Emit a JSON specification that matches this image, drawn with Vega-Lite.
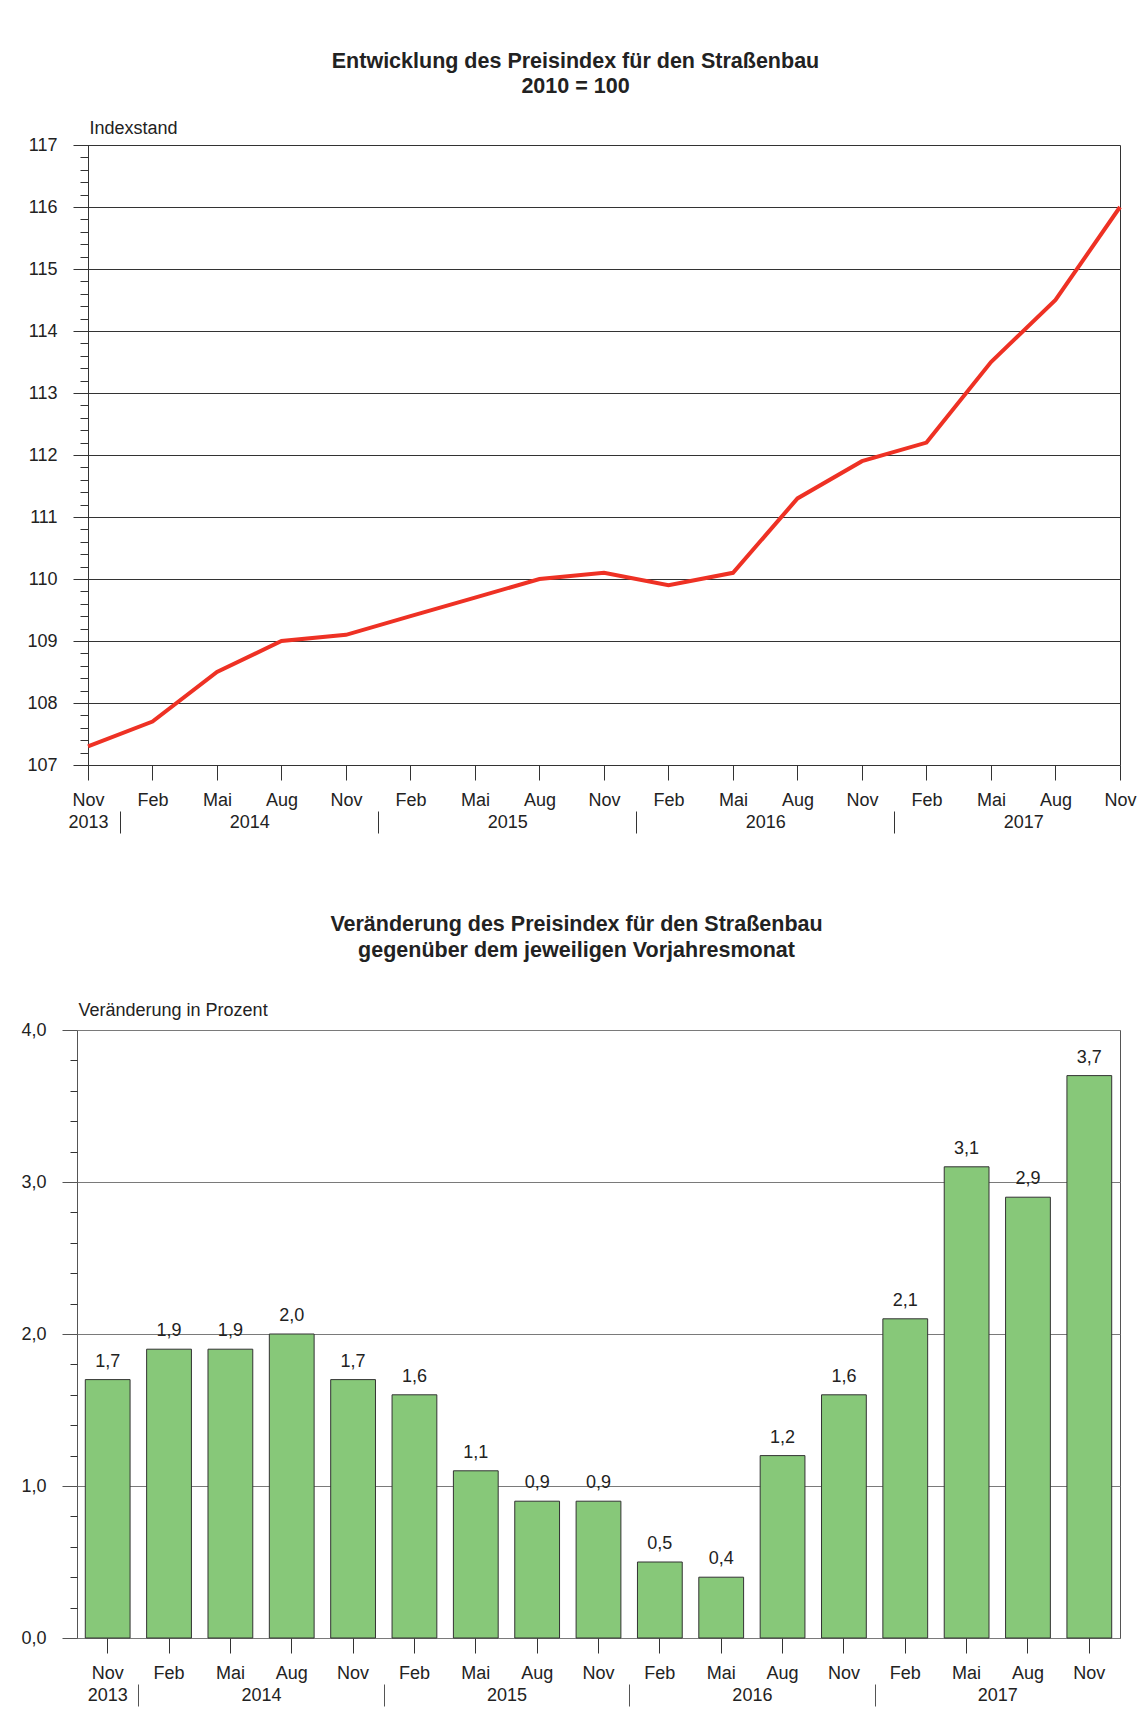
{
  "$schema": "https://vega.github.io/schema/vega-lite/v6.json",
  "background": "white",
  "padding": {"left": 16, "top": 50, "right": 0, "bottom": 0},
  "columns": 1,
  "spacing": 79,
  "datasets": {
    "index": [
      {"Monat": "Nov 2013", "Index": 107.3},
      {"Monat": "Feb 2014", "Index": 107.7},
      {"Monat": "Mai 2014", "Index": 108.5},
      {"Monat": "Aug 2014", "Index": 109.0},
      {"Monat": "Nov 2014", "Index": 109.1},
      {"Monat": "Feb 2015", "Index": 109.4},
      {"Monat": "Mai 2015", "Index": 109.7},
      {"Monat": "Aug 2015", "Index": 110.0},
      {"Monat": "Nov 2015", "Index": 110.1},
      {"Monat": "Feb 2016", "Index": 109.9},
      {"Monat": "Mai 2016", "Index": 110.1},
      {"Monat": "Aug 2016", "Index": 111.3},
      {"Monat": "Nov 2016", "Index": 111.9},
      {"Monat": "Feb 2017", "Index": 112.2},
      {"Monat": "Mai 2017", "Index": 113.5},
      {"Monat": "Aug 2017", "Index": 114.5},
      {"Monat": "Nov 2017", "Index": 116.0}
    ],
    "veraenderung": [
      {"Monat": "Nov 2013", "Prozent": 1.7},
      {"Monat": "Feb 2014", "Prozent": 1.9},
      {"Monat": "Mai 2014", "Prozent": 1.9},
      {"Monat": "Aug 2014", "Prozent": 2.0},
      {"Monat": "Nov 2014", "Prozent": 1.7},
      {"Monat": "Feb 2015", "Prozent": 1.6},
      {"Monat": "Mai 2015", "Prozent": 1.1},
      {"Monat": "Aug 2015", "Prozent": 0.9},
      {"Monat": "Nov 2015", "Prozent": 0.9},
      {"Monat": "Feb 2016", "Prozent": 0.5},
      {"Monat": "Mai 2016", "Prozent": 0.4},
      {"Monat": "Aug 2016", "Prozent": 1.2},
      {"Monat": "Nov 2016", "Prozent": 1.6},
      {"Monat": "Feb 2017", "Prozent": 2.1},
      {"Monat": "Mai 2017", "Prozent": 3.1},
      {"Monat": "Aug 2017", "Prozent": 2.9},
      {"Monat": "Nov 2017", "Prozent": 3.7}
    ]
  },
  "concat": [
    {
      "width": 1043,
      "height": 620,
      "view": {"stroke": null},
      "title": {
        "text": ["Entwicklung des Preisindex für den Straßenbau", "2010 = 100"],
        "fontSize": 21.5, "fontWeight": "bold", "lineHeight": 25,
        "anchor": "middle", "frame": "group", "dx": -23, "offset": 22, "color": "#222"
      },
      "data": {"name": "index"},
      "resolve": {"axis": {"x": "independent", "y": "independent"}},
      "layer": [
        {
          "mark": {"type": "line", "color": "#EE3124", "strokeWidth": 4},
          "encoding": {
            "x": {"field": "Monat", "type": "ordinal", "sort": null, "scale": {"type": "point", "padding": 0.08527, "align": 1},
              "axis": {"orient": "bottom", "title": null, "labelAngle": 0, "labelOverlap": false,
                "labelExpr": "datum.value == 'Nov 2013' ? ['Nov', '2013'] : split(datum.value, ' ')[0]",
                "labelLineHeight": 22, "labelPadding": 11, "tickSize": 15, "tickColor": "#333", "domain": false, "grid": false}},
            "y": {"field": "Index", "type": "quantitative", "scale": {"domain": [107, 117], "zero": false, "nice": false},
              "axis": {"orient": "left", "offset": -11, "values": [107, 108, 109, 110, 111, 112, 113, 114, 115, 116, 117],
                "grid": true, "gridColor": "#333", "gridWidth": 1, "tickSize": 15, "tickColor": "#333",
                "labelPadding": 16, "domain": true, "domainColor": "#333",
                "title": "Indexstand", "titleAngle": 0, "titleAlign": "left", "titleBaseline": "middle",
                "titleX": 1, "titleY": -17, "titleFontSize": 18, "titleFontWeight": "normal"}}
          }
        },
        {
          "mark": {"type": "line", "opacity": 0},
          "encoding": {
            "x": {"field": "Monat", "type": "ordinal", "sort": null, "scale": {"type": "point", "padding": 0.08527, "align": 1},
              "axis": {"orient": "bottom", "title": null, "labelAngle": 0, "labelOverlap": false,
                "values": ["Mai 2014", "Mai 2015", "Mai 2016", "Mai 2017"],
                "labelExpr": "split(datum.value, ' ')[1]", "tickOffset": 32.25,
                "ticks": false, "labelPadding": 48, "domain": false, "grid": false}},
            "y": {"field": "Index", "type": "quantitative", "scale": {"domain": [107, 117], "zero": false, "nice": false},
              "axis": {"orient": "left", "offset": -11, "title": null, "labels": false, "domain": false, "grid": false,
                "tickSize": 8, "tickColor": "#333",
                "values": [107.2, 107.4, 107.6, 107.8, 108.2, 108.4, 108.6, 108.8, 109.2, 109.4, 109.6, 109.8,
                  110.2, 110.4, 110.6, 110.8, 111.2, 111.4, 111.6, 111.8, 112.2, 112.4, 112.6, 112.8,
                  113.2, 113.4, 113.6, 113.8, 114.2, 114.4, 114.6, 114.8, 115.2, 115.4, 115.6, 115.8,
                  116.2, 116.4, 116.6, 116.8]}}
          }
        },
        {
          "mark": {"type": "line", "opacity": 0},
          "encoding": {
            "x": {"field": "Monat", "type": "ordinal", "sort": null, "scale": {"type": "point", "padding": 0.08527, "align": 1},
              "axis": {"orient": "bottom", "title": null, "labels": false, "domain": false, "grid": false,
                "values": ["Nov 2013", "Nov 2014", "Nov 2015", "Nov 2016"],
                "tickOffset": 32.25, "offset": 46, "tickSize": 22, "tickColor": "#333"}},
            "y": {"field": "Index", "type": "quantitative", "scale": {"domain": [107, 117], "zero": false, "nice": false},
              "axis": {"orient": "right", "title": null, "labels": false, "ticks": false, "grid": false,
                "domain": true, "domainColor": "#333"}}
          }
        }
      ]
    },
    {
      "width": 1043,
      "height": 608,
      "view": {"stroke": "#555", "strokeWidth": 1},
      "title": {
        "text": ["Veränderung des Preisindex für den Straßenbau", "gegenüber dem jeweiligen Vorjahresmonat"],
        "fontSize": 21.5, "fontWeight": "bold", "lineHeight": 26,
        "anchor": "middle", "frame": "group", "dx": -22, "offset": 40, "color": "#222"
      },
      "data": {"name": "veraenderung"},
      "resolve": {"axis": {"x": "independent", "y": "independent"}},
      "layer": [
        {
          "mark": {"type": "bar", "fill": "#87C879", "stroke": "#333", "strokeWidth": 1},
          "encoding": {
            "x": {"field": "Monat", "type": "ordinal", "sort": null, "scale": {"type": "band", "paddingInner": 0.27, "paddingOuter": 0.135},
              "axis": {"orient": "bottom", "title": null, "labelAngle": 0, "labelOverlap": false, "bandPosition": 0.5,
                "labelExpr": "datum.value == 'Nov 2013' ? ['Nov', '2013'] : split(datum.value, ' ')[0]",
                "labelLineHeight": 22, "labelPadding": 11, "tickSize": 15, "tickColor": "#333", "domain": false, "grid": false}},
            "y": {"field": "Prozent", "type": "quantitative", "scale": {"domain": [0, 4], "nice": false},
              "axis": {"orient": "left", "values": [0, 1, 2, 3, 4], "format": ".1f",
                "grid": true, "gridColor": "#7a7a7a", "gridWidth": 1, "tickSize": 15, "tickColor": "#555",
                "labelPadding": 16, "domain": false, "minExtent": 60,
                "title": "Veränderung in Prozent", "titleAngle": 0, "titleAlign": "left", "titleBaseline": "middle",
                "titleX": 1, "titleY": -20, "titleFontSize": 18, "titleFontWeight": "normal"}}
          }
        },
        {
          "mark": {"type": "text", "fontSize": 18, "baseline": "alphabetic", "dy": -13, "color": "#222"},
          "encoding": {
            "x": {"field": "Monat", "type": "ordinal", "sort": null, "scale": {"type": "band", "paddingInner": 0.27, "paddingOuter": 0.135},
              "axis": {"orient": "bottom", "title": null, "labelAngle": 0, "labelOverlap": false, "bandPosition": 0.5,
                "values": ["Mai 2014", "Mai 2015", "Mai 2016", "Mai 2017"],
                "labelExpr": "split(datum.value, ' ')[1]", "tickOffset": 30.68,
                "ticks": false, "labelPadding": 48, "domain": false, "grid": false}},
            "y": {"field": "Prozent", "type": "quantitative", "scale": {"domain": [0, 4], "nice": false},
              "axis": {"orient": "left", "title": null, "labels": false, "domain": false, "grid": false,
                "tickSize": 7, "tickColor": "#333",
                "values": [0.2, 0.4, 0.6, 0.8, 1.2, 1.4, 1.6, 1.8, 2.2, 2.4, 2.6, 2.8, 3.2, 3.4, 3.6, 3.8]}},
            "text": {"field": "Prozent", "type": "quantitative", "format": ".1f"}
          }
        },
        {
          "mark": {"type": "bar", "opacity": 0},
          "encoding": {
            "x": {"field": "Monat", "type": "ordinal", "sort": null, "scale": {"type": "band", "paddingInner": 0.27, "paddingOuter": 0.135},
              "axis": {"orient": "bottom", "title": null, "labels": false, "domain": false, "grid": false, "bandPosition": 0.5,
                "values": ["Nov 2013", "Nov 2014", "Nov 2015", "Nov 2016"],
                "tickOffset": 30.68, "offset": 46, "tickSize": 22, "tickColor": "#555"}},
            "y": {"field": "Prozent", "type": "quantitative", "scale": {"domain": [0, 4], "nice": false}, "axis": null}
          }
        }
      ]
    }
  ],
  "config": {
    "font": "Liberation Sans",
    "locale": {"number": {"decimal": ",", "thousands": ".", "grouping": [3], "currency": ["", " €"]}},
    "axis": {"labelFontSize": 18, "labelColor": "#222", "titleColor": "#222", "labelFont": "Liberation Sans", "titleFont": "Liberation Sans"},
    "title": {"font": "Liberation Sans"},
    "text": {"font": "Liberation Sans"}
  }
}
